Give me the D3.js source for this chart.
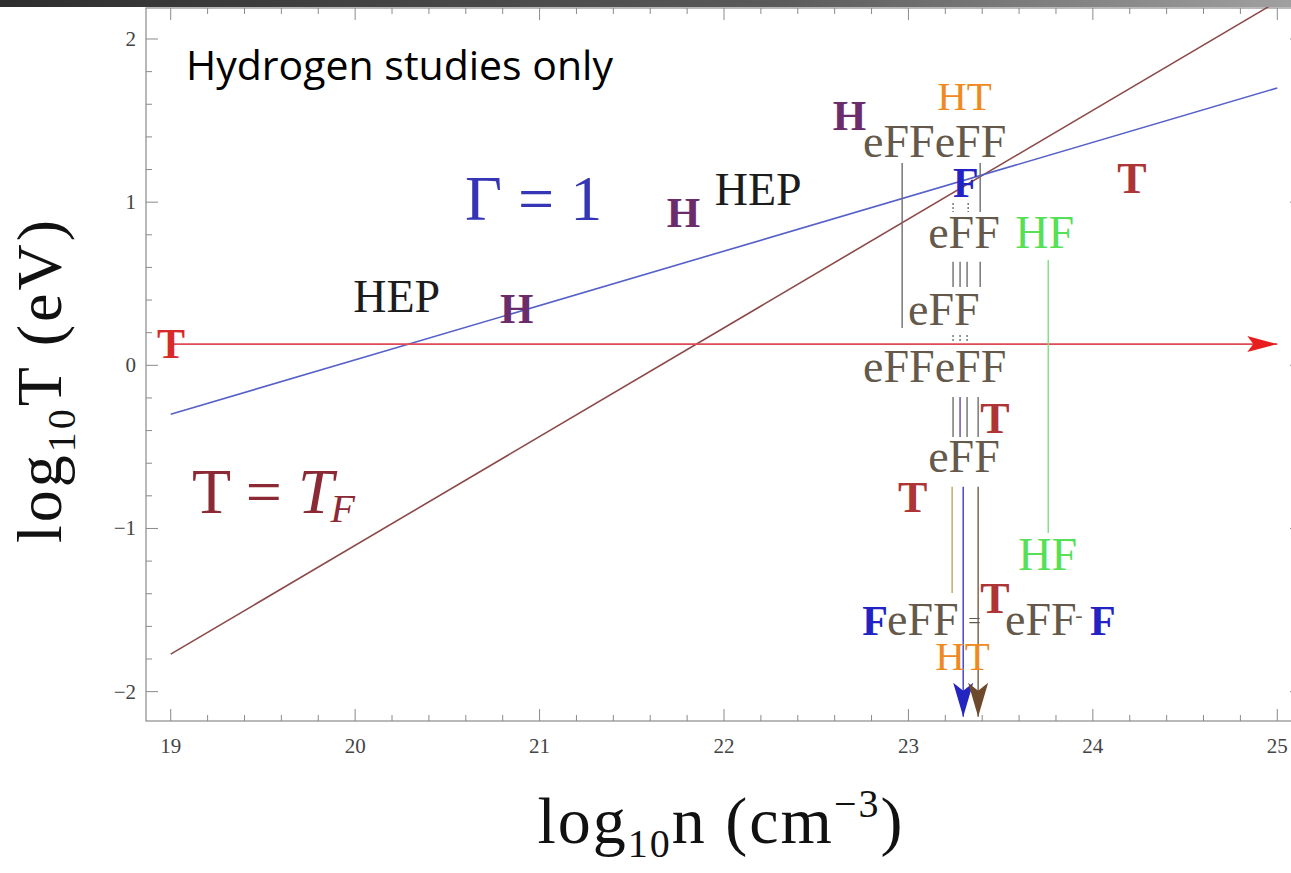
<!DOCTYPE html>
<html>
<head>
<meta charset="utf-8">
<script src="https://cdn.jsdelivr.net/npm/d3@7"></script>
<style>
  html, body { margin: 0; padding: 0; background: #fff; }
  svg { display: block; }
</style>
</head>
<body>
<script>
// axis ticks
const xTicks = [19, 20, 21, 22, 23, 24, 25];
const yTicks = [-2, -1, 0, 1, 2];

// the three straight lines, [log10 n, log10 T]
const gammaLine = [[19, -0.30], [25, 1.70]];
const fermiLine = [[19, -1.77], [25, 2.23]];
const ionLine = [[19, 0.13], [25, 0.13]];

// labels: text, log10 n (left edge), log10 T (baseline), kind
const labels = [
  {text: "HEP", n: 19.99, t: 0.327, kind: "hep"},
  {text: "H", n: 20.786, t: 0.26, kind: "h"},
  {text: "H", n: 21.69, t: 0.848, kind: "h"},
  {text: "HEP", n: 21.95, t: 0.983, kind: "hep"},
  {text: "H", n: 22.59, t: 1.442, kind: "h"},
  {text: "eFFeFF", n: 22.754, t: 1.277, kind: "eff"},
  {text: "HT", n: 23.156, t: 1.565, kind: "ht"},
  {text: "F", n: 23.242, t: 1.032, kind: "f"},
  {text: "T", n: 24.132, t: 1.056, kind: "t"},
  {text: "eFF", n: 23.107, t: 0.719, kind: "eff"},
  {text: "HF", n: 23.579, t: 0.719, kind: "hf"},
  {text: "eFF", n: 22.998, t: 0.248, kind: "eff"},
  {text: "T", n: 18.926, t: 0.045, kind: "tEdge"},
  {text: "eFFeFF", n: 22.754, t: -0.102, kind: "eff"},
  {text: "T", n: 23.389, t: -0.414, kind: "t"},
  {text: "eFF", n: 23.107, t: -0.653, kind: "eff"},
  {text: "T", n: 22.944, t: -0.898, kind: "t"},
  {text: "HF", n: 23.595, t: -1.254, kind: "hf"},
  {text: "T", n: 23.389, t: -1.517, kind: "t"},
  {text: "F", n: 22.749, t: -1.652, kind: "f"},
  {text: "eFF", n: 22.884, t: -1.652, kind: "eff"},
  {text: "=", n: 23.324, t: -1.609, kind: "tiny"},
  {text: "eFF", n: 23.524, t: -1.652, kind: "eff"},
  {text: "-", n: 23.904, t: -1.573, kind: "tiny"},
  {text: "F", n: 23.985, t: -1.652, kind: "f"},
  {text: "HT", n: 23.145, t: -1.866, kind: "ht"}
];

// vertical transition segments: log10 n, from log10 T, to log10 T, kind
const segments = [
  {n: 22.966, t0: 1.24, t1: 0.229, kind: "gray"},
  {n: 23.389, t0: 1.24, t1: 0.94, kind: "gray"},
  {n: 23.242, t0: 0.995, t1: 0.94, kind: "dot"},
  {n: 23.324, t0: 0.995, t1: 0.94, kind: "dot"},
  {n: 23.242, t0: 0.634, t1: 0.48, kind: "gray"},
  {n: 23.28, t0: 0.634, t1: 0.48, kind: "gray"},
  {n: 23.318, t0: 0.634, t1: 0.48, kind: "gray"},
  {n: 23.389, t0: 0.634, t1: 0.48, kind: "gray"},
  {n: 23.242, t0: 0.186, t1: 0.137, kind: "dot"},
  {n: 23.28, t0: 0.186, t1: 0.137, kind: "dot"},
  {n: 23.318, t0: 0.186, t1: 0.137, kind: "dot"},
  {n: 23.242, t0: -0.194, t1: -0.439, kind: "gray"},
  {n: 23.28, t0: -0.194, t1: -0.439, kind: "purple"},
  {n: 23.318, t0: -0.194, t1: -0.439, kind: "gray"},
  {n: 23.378, t0: -0.194, t1: -0.439, kind: "gray"},
  {n: 23.237, t0: -0.745, t1: -1.395, kind: "tan"},
  {n: 23.297, t0: -0.745, t1: -2.154, kind: "blue"},
  {n: 23.378, t0: -0.745, t1: -2.154, kind: "brown"},
  {n: 23.758, t0: 0.646, t1: -1.027, kind: "green"}
];

const W = 1291, H = 873;
const serif = "'Liberation Serif', 'Times New Roman', serif";

const labelStyle = {
  hep:   {fill: "#1c1c1c", size: 46, weight: "normal"},
  h:     {fill: "#6a2c6a", size: 43, weight: "bold"},
  eff:   {fill: "#64594a", size: 46, weight: "normal"},
  ht:    {fill: "#ef8a22", size: 41, weight: "normal"},
  hf:    {fill: "#55e055", size: 46, weight: "normal"},
  f:     {fill: "#2323c4", size: 42, weight: "bold"},
  t:     {fill: "#ad3535", size: 44, weight: "bold"},
  tEdge: {fill: "#d82a2a", size: 42, weight: "bold"},
  tiny:  {fill: "#64594a", size: 22, weight: "normal"}
};
const segStyle = {
  gray:   {stroke: "#6e6e6e", dash: null},
  dot:    {stroke: "#6e6e6e", dash: "2,2"},
  purple: {stroke: "#6a4a9a", dash: null},
  tan:    {stroke: "#c8a060", dash: null},
  blue:   {stroke: "#3a3ac8", dash: null},
  brown:  {stroke: "#7a5a40", dash: null},
  green:  {stroke: "#7de07d", dash: null}
};

const x = d3.scaleLinear().domain([18.866, 25.134]).range([146, 1302]);
const y = d3.scaleLinear().domain([-2.18, 2.19]).range([721, 8]);

const svg = d3.select("body").append("svg")
    .attr("width", W)
    .attr("height", H)
    .attr("font-family", serif);

// frame
const [x0, x1] = x.range();
const [yb, yt] = y.range();
svg.append("rect")
    .attr("x", x0).attr("y", yt)
    .attr("width", x1 - x0).attr("height", yb - yt)
    .attr("fill", "none")
    .attr("stroke", "#8a8a8a")
    .attr("stroke-width", 1.2);

// ticks on all four sides, pointing in
const xMinor = d3.range(19, 25.01, 0.2).map(v => +v.toFixed(1));
const yMinor = d3.range(-2.2, 2.21, 0.2).map(v => +v.toFixed(1)).filter(v => v >= -2.18 && v <= 2.19);
const tickG = svg.append("g").attr("stroke", "#8a8a8a").attr("stroke-width", 1);
const isMajor = v => Math.abs(v - Math.round(v)) < 1e-6;

xMinor.forEach(v => {
  const len = isMajor(v) ? 12 : 6;
  tickG.append("line").attr("x1", x(v)).attr("x2", x(v)).attr("y1", yb).attr("y2", yb - len);
  tickG.append("line").attr("x1", x(v)).attr("x2", x(v)).attr("y1", yt).attr("y2", yt + len);
});
yMinor.forEach(v => {
  const len = isMajor(v) ? 12 : 6;
  tickG.append("line").attr("y1", y(v)).attr("y2", y(v)).attr("x1", x0).attr("x2", x0 + len);
  tickG.append("line").attr("y1", y(v)).attr("y2", y(v)).attr("x1", x1).attr("x2", x1 - len);
});

// tick labels
svg.append("g")
    .attr("font-size", 21)
    .attr("fill", "#444")
    .attr("text-anchor", "middle")
  .selectAll("text")
  .data(xTicks)
  .join("text")
    .attr("x", d => x(d))
    .attr("y", yb + 32)
    .text(d => d);

svg.append("g")
    .attr("font-size", 21)
    .attr("fill", "#444")
    .attr("text-anchor", "end")
  .selectAll("text")
  .data(yTicks)
  .join("text")
    .attr("x", x0 - 10)
    .attr("y", d => y(d) + 7)
    .text(d => d < 0 ? "\u2212" + Math.abs(d) : d);

// lines
const line = d3.line().x(d => x(d[0])).y(d => y(d[1]));
svg.append("path").datum(fermiLine)
    .attr("d", line).attr("fill", "none")
    .attr("stroke", "#8c4a48").attr("stroke-width", 1.6);
svg.append("path").datum(gammaLine)
    .attr("d", line).attr("fill", "none")
    .attr("stroke", "#5560c8").attr("stroke-width", 1.6);
svg.append("path").datum(ionLine)
    .attr("d", line).attr("fill", "none")
    .attr("stroke", "#de4a55").attr("stroke-width", 1.6);

// red arrow head
const ionEnd = ionLine[1];
const ax = x(ionEnd[0]), ay = y(ionEnd[1]);
svg.append("path")
    .attr("d", `M${ax},${ay} L${ax - 30},${ay - 8} L${ax - 24},${ay} L${ax - 30},${ay + 8} Z`)
    .attr("fill", "#e81e1e");

// vertical segments
svg.append("g")
    .attr("stroke-width", 1.4)
  .selectAll("line")
  .data(segments)
  .join("line")
    .attr("x1", d => x(d.n)).attr("x2", d => x(d.n))
    .attr("y1", d => y(d.t0)).attr("y2", d => y(d.t1))
    .attr("stroke", d => segStyle[d.kind].stroke)
    .attr("stroke-dasharray", d => segStyle[d.kind].dash);

// down arrow heads on the long blue / brown segments
svg.append("g")
  .selectAll("path")
  .data(segments.filter(d => d.kind === "blue" || d.kind === "brown"))
  .join("path")
    .attr("d", d => {
      const px = x(d.n), py = y(d.t1);
      return `M${px},${py} L${px - 10},${py - 34} L${px},${py - 26} L${px + 10},${py - 34} Z`;
    })
    .attr("fill", d => d.kind === "blue" ? "#2424c0" : "#6e4a2c");

// labels
svg.append("g")
  .selectAll("text")
  .data(labels)
  .join("text")
    .attr("x", d => x(d.n))
    .attr("y", d => y(d.t))
    .attr("font-size", d => labelStyle[d.kind].size)
    .attr("font-weight", d => labelStyle[d.kind].weight)
    .attr("fill", d => labelStyle[d.kind].fill)
    .text(d => d.text);

// Gamma = 1
svg.append("text")
    .attr("x", x(20.596)).attr("y", y(0.891))
    .attr("font-size", 64)
    .attr("fill", "#3535b5")
    .text("\u0393 = 1");

// T = T_F
const tf = svg.append("text")
    .attr("x", x(19.115)).attr("y", y(-0.904))
    .attr("font-size", 64)
    .attr("fill", "#8b2a35");
tf.append("tspan").text("T = ");
tf.append("tspan").attr("font-style", "italic").text("T");
tf.append("tspan").attr("font-style", "italic").attr("font-size", 40).attr("dy", 9).attr("dx", -3).text("F");

// axis titles
const bt = svg.append("text")
    .attr("x", 721).attr("y", 843)
    .attr("text-anchor", "middle")
    .attr("font-size", 66)
    .attr("letter-spacing", 2)
    .attr("fill", "#111");
bt.append("tspan").text("log");
bt.append("tspan").attr("font-size", 40).attr("dy", 14).text("10");
bt.append("tspan").attr("dy", -14).text("n (cm");
bt.append("tspan").attr("font-size", 40).attr("dy", -26).text("\u22123");
bt.append("tspan").attr("dy", 26).text(")");

const lt = svg.append("text")
    .attr("transform", "translate(61,380) rotate(-90)")
    .attr("text-anchor", "middle")
    .attr("font-size", 64)
    .attr("letter-spacing", 3)
    .attr("fill", "#111");
lt.append("tspan").text("log");
lt.append("tspan").attr("font-size", 40).attr("dy", 14).text("10");
lt.append("tspan").attr("dy", -14).text("T (eV)");

// slide overlay
svg.append("text")
    .attr("x", 186).attr("y", 80)
    .attr("font-family", "'Open Sans', 'Noto Sans', sans-serif")
    .attr("font-size", 41)
    .attr("fill", "#000")
    .text("Hydrogen studies only");

// dark bar along the top
const grad = svg.append("defs").append("linearGradient").attr("id", "bar");
grad.append("stop").attr("offset", "0%").attr("stop-color", "#2e2e2e");
grad.append("stop").attr("offset", "60%").attr("stop-color", "#5a5a5a");
grad.append("stop").attr("offset", "100%").attr("stop-color", "#a0a0a0");
svg.append("rect")
    .attr("x", 0).attr("y", 0).attr("width", W).attr("height", 7)
    .attr("fill", "url(#bar)");
</script>
</body>
</html>
